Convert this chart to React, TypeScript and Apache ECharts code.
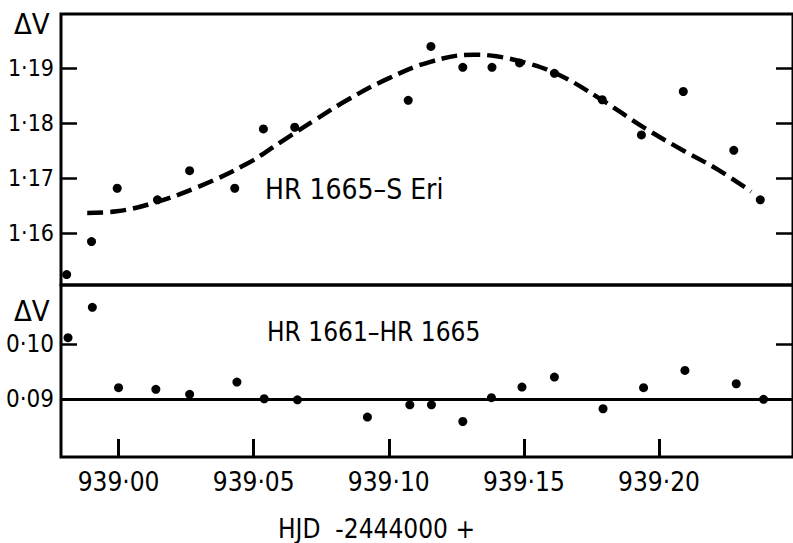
import React, { useEffect, useRef } from "react";
import * as echarts from "echarts";

// Top panel: HR 1665 – S Eri
const topX = [938.9808, 938.990, 938.9995, 939.0144, 939.0263, 939.043, 939.0536, 939.0652, 939.1072, 939.1156, 939.1274, 939.1382, 939.1484, 939.1613, 939.179, 939.1935, 939.209, 939.2277, 939.2375];
const topY = [1.1524, 1.1584, 1.1681, 1.166, 1.1713, 1.1681, 1.1789, 1.1792, 1.1841, 1.1939, 1.1901, 1.1901, 1.1909, 1.189, 1.1842, 1.1778, 1.1857, 1.175, 1.166];

// Fitted (dashed) curve
const curveX = [938.9884, 938.9993, 939.0114, 939.0297, 939.048, 939.0603, 939.0726, 939.0848, 939.0995, 939.1154, 939.1313, 939.1399, 939.1509, 939.1631, 939.1778, 939.1949, 939.2096, 939.2218, 939.2341];
const curveY = [1.1636, 1.1639, 1.1652, 1.1684, 1.1727, 1.1766, 1.1805, 1.1842, 1.188, 1.1911, 1.1924, 1.1921, 1.1909, 1.1887, 1.1845, 1.179, 1.1748, 1.1715, 1.1675];

// Bottom panel: HR 1661 – HR 1665
const botX = [938.9813, 938.9903, 939.0, 939.0138, 939.0263, 939.0438, 939.0539, 939.0662, 939.0921, 939.1078, 939.1158, 939.1274, 939.138, 939.1493, 939.1613, 939.1793, 939.1943, 939.2096, 939.2286, 939.2387];
const botY = [0.1011, 0.10657, 0.0921, 0.0918, 0.0909, 0.0931, 0.0901, 0.0899, 0.0868, 0.089, 0.089, 0.086, 0.0903, 0.0922, 0.094, 0.0883, 0.0921, 0.0952, 0.0928, 0.09];
const botMean = 0.0912;

const xTicks = [939.0, 939.05, 939.1, 939.15, 939.2];
const topTicks = [1.16, 1.17, 1.18, 1.19];
const botTicks = [0.09, 0.1];

const FONT = "'DejaVu Sans Condensed', 'DejaVu Sans', sans-serif";

const fmt = (v: number) => v.toFixed(2).replace(".", "·");

export default function App() {
  const ref = useRef<HTMLDivElement>(null);
  useEffect(() => {
    if (!ref.current) return;
    const chart = echarts.init(ref.current, null, { renderer: "svg" });
    const xMin = 938.9787;
    const xMax = 939.2496;
    const gridW = 736;
    const leftY = (min: number, max: number, ticks: number[], grid: number, size: number) => ({
      type: "value",
      gridIndex: grid,
      position: "left",
      min,
      max,
      axisLine: { show: false },
      splitLine: { show: false },
      axisTick: { show: true, inside: true, length: 16, customValues: ticks, lineStyle: { color: "#000", width: 2.5 } },
      axisLabel: { show: true, customValues: ticks, formatter: fmt, margin: 7, color: "#000", fontSize: size, fontFamily: FONT },
    });
    const rightY = (min: number, max: number, ticks: number[], grid: number) => ({
      type: "value",
      gridIndex: grid,
      position: "right",
      min,
      max,
      axisLine: { show: false },
      splitLine: { show: false },
      axisTick: { show: true, inside: true, length: 17, customValues: ticks, lineStyle: { color: "#000", width: 2.5 } },
      axisLabel: { show: false },
    });
    chart.setOption({
      animation: false,
      backgroundColor: "#fff",
      grid: [
        { left: 61, top: 14, width: gridW, height: 271, show: true, borderColor: "#000", borderWidth: 3, backgroundColor: "transparent" },
        { left: 61, top: 285, width: gridW, height: 172, show: true, borderColor: "#000", borderWidth: 3, backgroundColor: "transparent" },
      ],
      xAxis: [
        { type: "value", gridIndex: 0, min: xMin, max: xMax, show: false, splitLine: { show: false } },
        {
          type: "value",
          gridIndex: 1,
          min: xMin,
          max: xMax,
          axisLine: { show: false },
          splitLine: { show: false },
          axisTick: { show: true, inside: true, length: 18, customValues: xTicks, lineStyle: { color: "#000", width: 3 } },
          axisLabel: { show: true, customValues: xTicks, formatter: fmt, margin: 12, color: "#000", fontSize: 26, fontFamily: FONT },
        },
      ],
      yAxis: [
        leftY(1.1505, 1.1998, topTicks, 0, 23),
        rightY(1.1505, 1.1998, topTicks, 0),
        leftY(0.0796, 0.1106, botTicks, 1, 24),
        rightY(0.0796, 0.1106, botTicks, 1),
      ],
      series: [
        {
          type: "line",
          xAxisIndex: 0,
          yAxisIndex: 0,
          data: curveX.map((x, i) => [x, curveY[i]]),
          smooth: 0.4,
          showSymbol: false,
          lineStyle: { color: "#000", width: 4.5, type: [16, 7] },
          z: 2,
        },
        {
          type: "scatter",
          xAxisIndex: 0,
          yAxisIndex: 0,
          data: topX.map((x, i) => [x, topY[i]]),
          symbol: "circle",
          symbolSize: 9,
          itemStyle: { color: "#000", opacity: 1 },
          z: 3,
        },
        {
          type: "scatter",
          xAxisIndex: 1,
          yAxisIndex: 2,
          data: botX.map((x, i) => [x, botY[i]]),
          symbol: "circle",
          symbolSize: 9,
          itemStyle: { color: "#000", opacity: 1 },
          z: 3,
          markLine: {
            silent: true,
            symbol: ["none", "none"],
            label: { show: false },
            lineStyle: { color: "#000", width: 3, type: "solid" },
            data: [{ yAxis: botMean }],
          },
        },
      ],
      graphic: [
        { type: "text", left: 14, top: 9, style: { text: "ΔV", fontSize: 29, fontFamily: FONT, fill: "#000" } },
        { type: "text", left: 14, top: 296, style: { text: "ΔV", fontSize: 29, fontFamily: FONT, fill: "#000" } },
        { type: "text", left: 265, top: 175, style: { text: "HR 1665–S Eri", fontSize: 28, fontFamily: FONT, fill: "#000" } },
        { type: "text", left: 267, top: 319, style: { text: "HR 1661–HR 1665", fontSize: 26, fontFamily: FONT, fill: "#000" } },
        { type: "text", left: 278, top: 516, style: { text: "HJD  -2444000 +", fontSize: 26, fontFamily: FONT, fill: "#000" } },
      ],
    });
    return () => chart.dispose();
  }, []);
  return <div ref={ref} style={{ position: "fixed", left: 0, top: 0, width: 793, height: 543 }} />;
}
